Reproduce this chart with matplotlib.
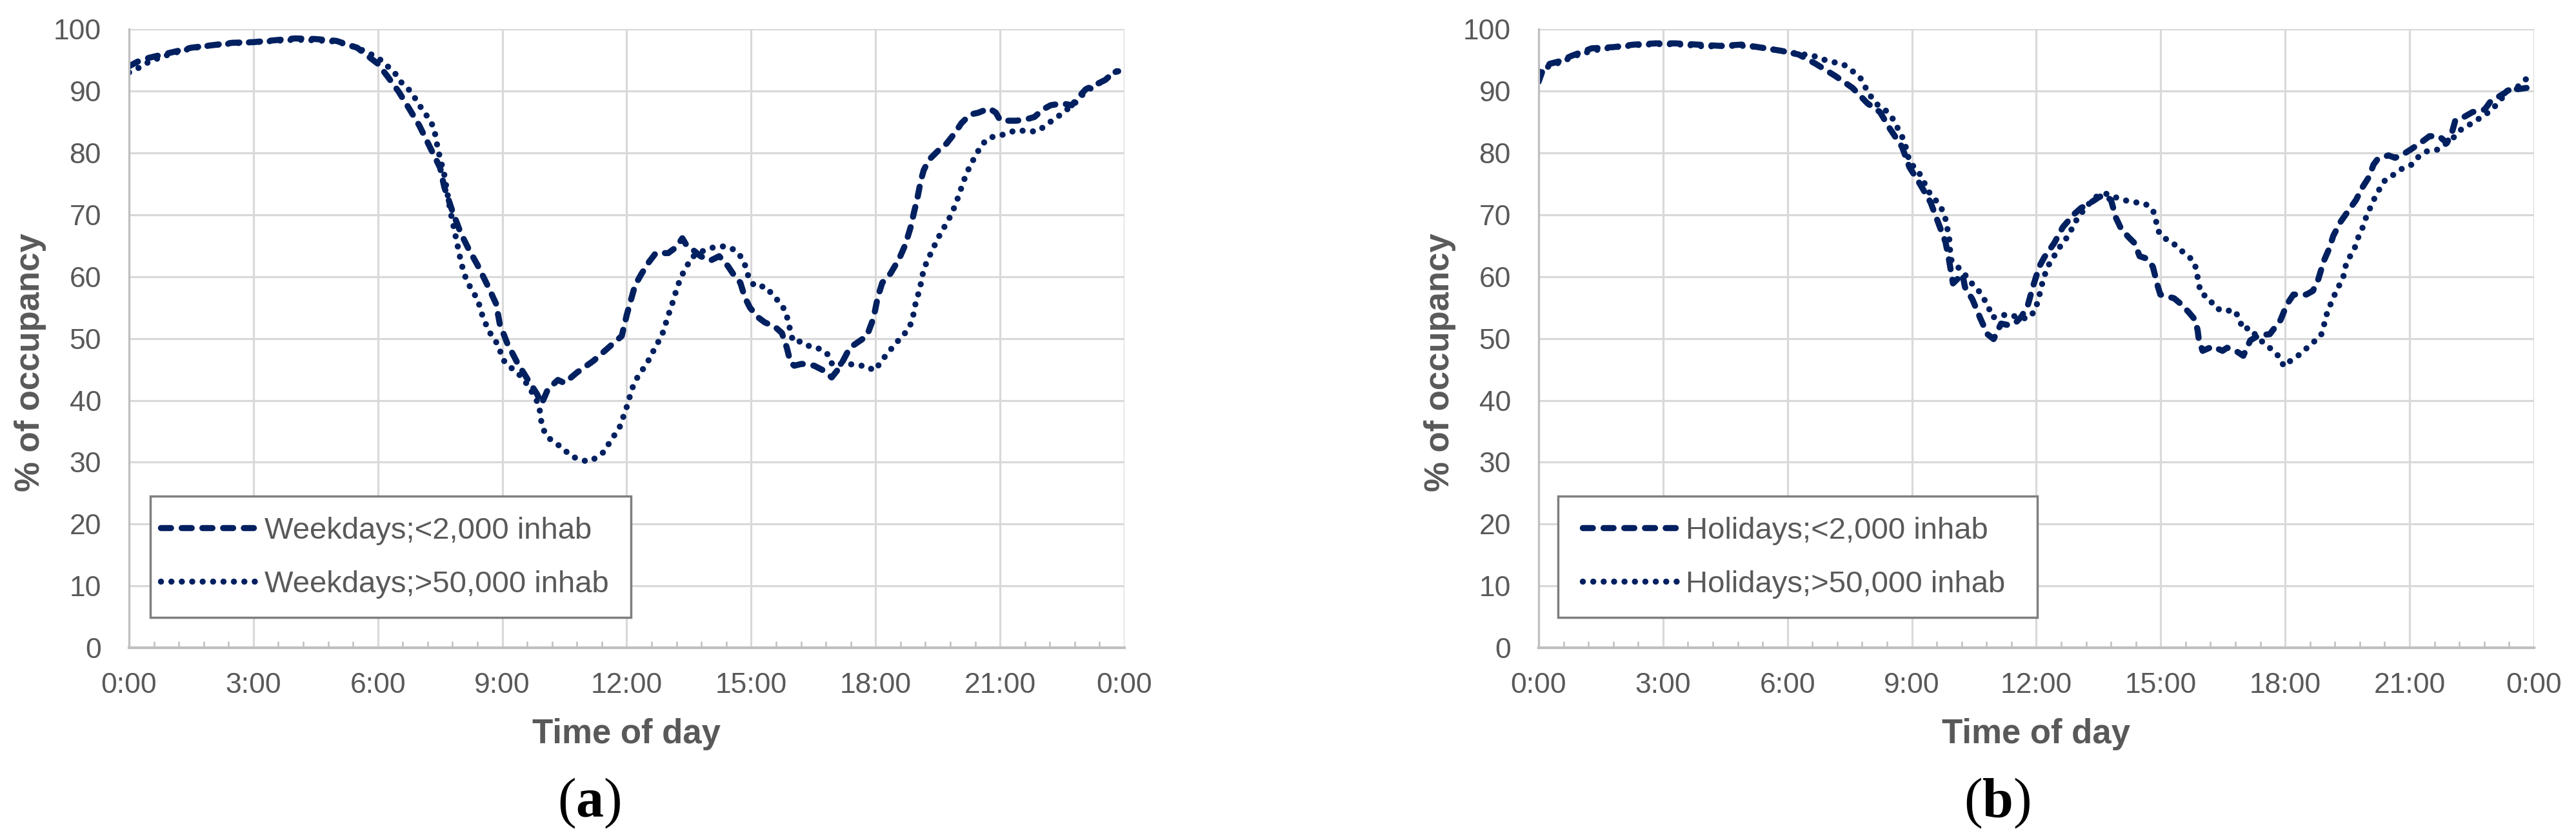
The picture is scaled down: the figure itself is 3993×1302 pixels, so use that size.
import numpy as np
import matplotlib.pyplot as plt
from matplotlib.patches import Rectangle

plt.rcParams['font.family'] = ['Liberation Sans', 'DejaVu Sans']
plt.rcParams['mathtext.fontset'] = 'custom'
plt.rcParams['mathtext.bf'] = 'Liberation Serif:bold'
plt.rcParams['mathtext.rm'] = 'Liberation Serif'

# weekdays, <2,000 inhab (hour of day, % occupancy)
wd_small_h = [0, 0.25, 0.5, 1.0, 1.5, 2.0, 2.5, 3.0, 3.5, 4.0, 4.5, 5.0, 5.5, 6.0, 6.25, 6.5, 6.75,
              7.0, 7.25, 7.5, 7.6, 7.8, 8.0, 8.2, 8.4, 8.65, 8.85, 8.94, 9.12, 9.36, 9.6, 9.83, 9.95,
              10.1, 10.34, 10.5, 10.8, 11.2, 11.64, 11.88, 12.0, 12.1, 12.2, 12.36, 12.54, 12.7, 13.0,
              13.2, 13.34, 13.43, 13.6, 13.78, 14.02, 14.23, 14.44, 14.56, 14.74, 14.85, 14.97, 15.15,
              15.33, 15.57, 15.74, 15.86, 15.95, 16.04, 16.22, 16.52, 16.78, 16.94, 17.12, 17.38, 17.53,
              17.79, 17.95, 18.05, 18.16, 18.36, 18.57, 18.72, 18.85, 18.93, 19.0, 19.09, 19.16, 19.29,
              19.5, 19.71, 19.91, 20.07, 20.28, 20.48, 20.74, 20.9, 21.0, 21.21, 21.39, 21.62, 21.83,
              22.03, 22.22, 22.5, 22.73, 22.92, 23.07, 23.33, 23.54, 23.74, 23.85]
wd_small = [94.0, 94.9, 95.4, 96.2, 97.0, 97.4, 97.8, 97.9, 98.2, 98.5, 98.4, 98.1, 97.0, 94.4, 92.2, 89.9, 87.2,
            84.4, 81.0, 77.6, 74.5, 70.5, 67.0, 64.3, 61.9, 58.5, 55.6, 52.3, 49.2, 46.1, 43.5, 41.1, 39.5,
            41.8, 43.3, 42.8, 44.5, 46.4, 49.0, 50.4, 53.8, 56.2, 58.6, 60.5, 62.4, 63.8, 63.8,
            64.8, 66.2, 65.2, 64.3, 63.3, 62.6, 63.3, 61.7, 60.5, 59.0, 56.6, 55.0, 53.5,
            52.6, 51.9, 50.9, 48.5, 46.1, 45.6, 45.9, 45.6, 44.7, 43.7, 45.2, 48.5, 49.2,
            50.4, 53.3, 56.6, 59.0, 60.5, 62.9, 65.2, 68.1, 70.5, 72.4, 75.5, 77.2, 78.9,
            80.3, 81.5, 83.2, 84.8, 86.2, 86.5, 87.2, 86.5, 85.3, 85.2, 85.2, 85.4, 85.8,
            87.0, 87.7, 88.0, 87.7, 89.2, 90.3, 91.1, 91.8, 93.0, 93.2]

# weekdays, >50,000 inhab
wd_large_h = [0, 0.25, 0.5, 1.0, 1.5, 2.0, 2.5, 3.0, 3.5, 4.0, 4.5, 5.0, 5.5, 6.0, 6.2, 6.4, 6.55, 6.75,
              6.9, 7.05, 7.2, 7.35, 7.45, 7.6, 7.75, 7.9, 8.0, 8.07, 8.15, 8.27, 8.42, 8.48, 8.57, 8.66,
              8.81, 8.93, 8.99, 9.14, 9.33, 9.5, 9.65, 9.89, 9.92, 9.97, 10.07, 10.25, 10.46, 10.63,
              10.87, 11.08, 11.29, 11.47, 11.61, 11.76, 11.88, 11.94, 12.03, 12.09, 12.18, 12.3, 12.45,
              12.58, 12.7, 12.83, 12.92, 12.98, 13.07, 13.14, 13.22, 13.31, 13.43, 13.55, 13.72, 13.93,
              14.13, 14.38, 14.61, 14.78, 14.88, 14.94, 15.09, 15.35, 15.51, 15.69, 15.83, 15.89, 15.95,
              16.01, 16.22, 16.44, 16.68, 16.87, 16.96, 17.14, 17.35, 17.59, 17.76, 17.97, 18.12, 18.26,
              18.44, 18.59, 18.77, 18.88, 18.93, 18.98, 19.06, 19.11, 19.16, 19.27, 19.37, 19.49, 19.6,
              19.73, 19.85, 19.94, 20.03, 20.11, 20.2, 20.31, 20.43, 20.56, 20.74, 20.97, 21.21, 21.44,
              21.7, 21.94, 22.14, 22.35, 22.55, 22.76, 22.99, 23.2, 23.45, 23.65, 23.83]
wd_large = [93.0, 93.8, 94.8, 96.0, 96.9, 97.4, 97.7, 97.9, 98.1, 98.3, 98.2, 98.0, 97.0, 95.4, 94.2, 93.0, 91.5, 90.2,
            88.8, 87.2, 85.8, 84.1, 80.5, 76.5, 70.5, 65.7, 62.5, 60.7, 59.2, 57.8, 56.1, 54.4, 52.9, 51.3,
            49.9, 48.5, 46.8, 45.6, 44.7, 43.5, 42.1, 39.2, 37.3, 35.6, 34.2, 33.2, 32.3, 31.1,
            30.4, 30.1, 30.8, 31.8, 33.5, 34.9, 36.3, 38.0, 39.4, 41.1, 42.8, 44.2, 45.6,
            47.1, 48.8, 50.2, 51.9, 53.4, 55.0, 56.6, 58.3, 60.0, 61.4, 63.0, 63.8, 64.4,
            64.8, 64.9, 64.3, 63.0, 61.4, 59.8, 58.4, 58.4, 57.1, 55.8, 54.4, 52.8, 51.1,
            49.5, 49.5, 48.6, 48.3, 47.3, 45.7, 45.9, 45.9, 45.6, 45.6, 44.8, 46.1, 47.4,
            48.8, 50.0, 51.3, 52.8, 54.5, 56.2, 57.8, 59.5, 61.2, 62.9, 64.3, 66.0, 67.4,
            68.8, 70.4, 71.9, 73.6, 75.2, 76.8, 78.3, 79.8, 81.3, 82.5, 82.7, 83.3, 83.7,
            83.4, 83.6, 84.7, 85.6, 86.7, 87.7, 89.4, 90.5, 91.5, 92.4, 93.3]

# holidays, <2,000 inhab
hd_small_h = [0, 0.09, 0.27, 0.5, 0.8, 1.28, 1.81, 2.29, 2.82, 3.3, 3.83, 4.37, 4.9, 5.38, 5.85, 6.27, 6.68,
              7.16, 7.57, 7.93, 8.23, 8.47, 8.76, 8.94, 9.21, 9.45, 9.63, 9.81, 9.9, 9.99, 10.22, 10.28,
              10.46, 10.64, 10.82, 10.97, 11.15, 11.3, 11.48, 11.65, 11.8, 11.92, 12.07, 12.19, 12.43,
              12.64, 12.91, 13.08, 13.32, 13.5, 13.62, 13.8, 13.92, 14.04, 14.22, 14.37, 14.49, 14.67,
              14.81, 14.87, 14.93, 14.99, 15.32, 15.5, 15.68, 15.83, 15.89, 15.92, 16.01, 16.25, 16.49,
              16.6, 16.81, 16.99, 17.16, 17.36, 17.63, 17.89, 18.04, 18.2, 18.51, 18.67, 18.8, 18.93,
              19.06, 19.16, 19.34, 19.55, 19.71, 19.86, 20.02, 20.13, 20.23, 20.49, 20.65, 20.85, 21.04,
              21.32, 21.48, 21.71, 21.9, 22.03, 22.1, 22.31, 22.52, 22.81, 22.94, 23.15, 23.3, 23.43,
              23.61, 23.82]
hd_small = [91.5, 93.2, 94.4, 94.8, 95.7, 96.9, 97.1, 97.5, 97.7, 97.7, 97.5, 97.3, 97.5, 97.0, 96.5, 95.9, 94.4,
            92.4, 90.5, 88.0, 86.6, 83.9, 81.0, 77.7, 74.8, 72.0, 68.8, 65.6, 62.5, 58.9, 60.4, 58.3,
            56.3, 53.4, 50.7, 49.9, 52.4, 52.2, 52.4, 53.6, 55.5, 58.4, 61.6, 63.1, 65.4,
            68.0, 70.1, 71.1, 72.0, 72.8, 73.2, 72.4, 69.5, 67.8, 66.4, 65.4, 63.3, 62.9,
            61.6, 60.0, 58.4, 57.1, 56.5, 55.5, 54.2, 53.0, 51.3, 49.7, 48.0, 48.7, 48.0,
            48.5, 48.0, 47.2, 49.7, 50.5, 50.7, 53.0, 55.5, 57.1, 57.1, 57.7, 59.6, 62.5,
            64.5, 66.6, 68.9, 70.9, 72.4, 74.4, 76.1, 78.1, 79.0, 79.6, 79.2, 79.8, 80.6,
            81.9, 82.7, 82.7, 81.6, 83.5, 85.2, 85.8, 86.6, 87.0, 88.2, 89.1, 89.7, 90.5,
            90.3, 90.5]

# holidays, >50,000 inhab
hd_large_h = [0, 0.25, 0.5, 1.0, 1.5, 2.0, 2.5, 3.0, 3.5, 4.0, 4.5, 5.0, 5.5, 6.0, 6.3, 6.62, 6.86, 7.1,
              7.37, 7.57, 7.75, 7.87, 7.99, 8.17, 8.35, 8.53, 8.65, 8.76, 8.85, 8.94, 9.18, 9.42, 9.57,
              9.72, 9.81, 9.86, 9.9, 9.92, 9.95, 10.1, 10.25, 10.4, 10.58, 10.73, 10.85, 10.94, 11.09,
              11.3, 11.59, 11.79, 11.96, 12.04, 12.1, 12.16, 12.24, 12.35, 12.5, 12.62, 12.79, 12.89,
              13.02, 13.23, 13.44, 13.68, 13.92, 14.16, 14.4, 14.62, 14.81, 14.88, 14.93, 15.05, 15.26,
              15.43, 15.64, 15.81, 15.87, 15.91, 15.97, 16.17, 16.3, 16.53, 16.77, 16.9, 16.97, 17.14,
              17.32, 17.49, 17.7, 17.86, 17.97, 18.11, 18.29, 18.48, 18.68, 18.86, 18.93, 18.99, 19.08,
              19.18, 19.29, 19.4, 19.45, 19.55, 19.68, 19.76, 19.86, 19.94, 20.05, 20.15, 20.27, 20.41,
              20.62, 20.83, 21.05, 21.22, 21.43, 21.66, 21.88, 22.08, 22.26, 22.48, 22.69, 22.91, 23.1,
              23.38, 23.61, 23.82]
hd_large = [93.2, 94.0, 94.6, 96.0, 96.8, 97.2, 97.5, 97.6, 97.5, 97.2, 97.3, 97.3, 96.9, 96.3, 96.0, 95.7, 95.1, 94.7,
            94.2, 93.2, 92.2, 90.7, 89.3, 87.8, 87.0, 85.6, 84.1, 82.7, 81.0, 78.6, 76.7, 73.6, 72.4,
            70.9, 69.3, 67.6, 66.2, 64.3, 62.7, 61.6, 60.6, 59.2, 58.0, 56.5, 55.0, 53.4, 53.6,
            53.9, 53.4, 53.2, 54.4, 56.1, 57.7, 59.4, 61.0, 62.6, 64.0, 65.4, 66.7, 68.3,
            69.7, 71.5, 72.9, 73.4, 72.8, 72.3, 72.0, 71.8, 70.8, 69.2, 67.5, 66.3, 65.7,
            64.5, 63.5, 62.3, 60.7, 59.0, 57.3, 56.5, 55.0, 54.4, 54.6, 53.2, 51.5, 51.7,
            50.3, 49.2, 48.1, 47.0, 45.5, 46.3, 47.1, 48.2, 49.4, 50.4, 52.0, 53.7, 55.3,
            56.9, 58.4, 59.9, 61.6, 63.1, 64.7, 66.3, 67.8, 69.4, 71.1, 72.6, 74.1, 75.6,
            76.5, 77.5, 78.1, 79.4, 80.3, 80.5, 81.5, 82.6, 83.9, 84.7, 85.6, 86.6, 87.8,
            90.1, 90.7, 92.0]

xtick_pos = [0, 3, 6, 9, 12, 15, 18, 21, 24]
xtick_lab = ['0:00', '3:00', '6:00', '9:00', '12:00', '15:00', '18:00', '21:00', '0:00']

navy = '#002060'
grey_txt = '#595959'


def draw_panel(ax, h1, v1, lab1, h2, v2, lab2, box_x0, box_x1, handle_x):
    ax.plot(h1, v1, color=navy, lw=6.8, ls=(0, (1.65, 1.75)), dash_capstyle='round', label=lab1)
    ax.plot(h2, v2, color=navy, lw=6.8, ls=(0, (0.01, 1.7)), dash_capstyle='round', label=lab2)
    ax.set_xlim(0, 24)
    ax.set_ylim(0, 100)
    ax.set_xticks(xtick_pos)
    ax.set_xticklabels(xtick_lab)
    ax.set_xticks(np.arange(0, 24.01, 0.6), minor=True)
    ax.set_yticks(np.arange(0, 101, 10))
    ax.grid(True, which='major', color='#D9D9D9', lw=2.3)
    ax.set_axisbelow(True)
    for s in ['top', 'right']:
        ax.spines[s].set_visible(False)
    ax.spines['left'].set_color('#BFBFBF')
    ax.spines['left'].set_linewidth(2.3)
    ax.spines['bottom'].set_color('#BFBFBF')
    ax.spines['bottom'].set_linewidth(3)
    ax.tick_params(axis='both', which='major', labelsize=32, labelcolor=grey_txt, length=0)
    ax.tick_params(axis='x', which='major', pad=27)
    ax.tick_params(axis='y', which='major', pad=31)
    ax.tick_params(axis='x', which='minor', direction='in', length=7, width=1.8, color='#BFBFBF')
    ax.set_xlabel('Time of day', fontsize=38, fontweight='bold', color=grey_txt)
    ax.xaxis.set_label_coords(0.5, -0.114)
    ax.set_ylabel('% of occupancy', fontsize=38, fontweight='bold', color=grey_txt)
    ax.yaxis.label.set_va('center')
    ax.yaxis.set_label_coords(-0.099, 0.461)

    ax.add_patch(Rectangle((box_x0, 0.049), box_x1 - box_x0, 0.196, transform=ax.transAxes,
                           facecolor='white', edgecolor='#7F7F7F', lw=2.5, zorder=4))
    leg = ax.legend(loc='center left', bbox_to_anchor=(handle_x, 0.146), frameon=False,
                    fontsize=34, handlelength=3.1, handletextpad=0.3, labelspacing=0.83,
                    borderpad=0, borderaxespad=0)
    leg.set_zorder(5)
    for t in leg.get_texts():
        t.set_color(grey_txt)


fig = plt.figure(figsize=(39.93, 13.02), dpi=100)
ax1 = fig.add_axes([0.0501, 0.2288, 0.3864, 0.7365])
ax2 = fig.add_axes([0.5973, 0.2288, 0.3864, 0.7365])

draw_panel(ax1, wd_small_h, wd_small, 'Weekdays;<2,000 inhab',
           wd_large_h, wd_large, 'Weekdays;>50,000 inhab', 0.0213, 0.5045, 0.032)
draw_panel(ax2, hd_small_h, hd_small, 'Holidays;<2,000 inhab',
           hd_large_h, hd_large, 'Holidays;>50,000 inhab', 0.0194, 0.501, 0.044)

fig.text(0.2287, 0.0438, '(' + r'$\mathbf{a}$' + ')', fontsize=62, family='Liberation Serif',
         ha='center', va='center', color='black')
fig.text(0.7753, 0.0438, '(' + r'$\mathbf{b}$' + ')', fontsize=62, family='Liberation Serif',
         ha='center', va='center', color='black')

fig.savefig('out.png', dpi=100)
